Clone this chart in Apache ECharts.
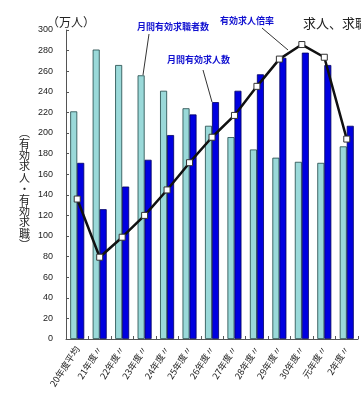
<!DOCTYPE html>
<html><head><meta charset="utf-8">
<script src="https://cdn.jsdelivr.net/npm/echarts@6/dist/echarts.min.js"></script>
<style>html,body{margin:0;padding:0;background:#fff}#c{width:361px;height:395px}</style>
</head><body><div id="c"></div>
<script>
const categories = ['20年度平均','21年度〃','22年度〃','23年度〃','24年度〃','25年度〃','26年度〃','27年度〃','28年度〃','29年度〃','30年度〃','元年度〃','2年度〃'];
const seekers = [221,281,266,256,241,224,207,196,184,176,172,171,187];
const openings = [171,126,148,174,198,218,230,241,257,273,278,266,207];
const ratio = [0.77,0.45,0.56,0.68,0.82,0.97,1.11,1.23,1.39,1.54,1.62,1.55,1.10];
const yTicks = [0,20,40,60,80,100,120,140,160,180,200,220,240,260,280,300];

const chart = echarts.init(document.getElementById('c'), null, {renderer:'canvas'});
const font = '"Noto Sans CJK JP", sans-serif';
const blue = '#1010d0';
chart.setOption({
  animation:false,
  textStyle:{fontFamily:font},
  grid:{left:66,right:3,top:30,bottom:56},
  xAxis:{type:'category',data:categories,
    axisLine:{lineStyle:{color:'#555',width:1}},
    axisTick:{show:true,inside:true,length:3,lineStyle:{color:'#555'}},
    axisLabel:{rotate:57,fontSize:9,color:'#222',margin:8,interval:0,fontFamily:font}},
  yAxis:[{type:'value',min:0,max:300,interval:20,
    axisLine:{show:true,lineStyle:{color:'#555'}},
    axisTick:{show:true,inside:true,length:3,lineStyle:{color:'#555'}},
    splitLine:{show:false},
    axisLabel:{fontSize:9,color:'#222',margin:13,fontFamily:'Liberation Sans, Arial, sans-serif',
      formatter:v=>yTicks.includes(v)?String(v):''}},
    {type:'value',min:0,max:1.7,show:false,splitLine:{show:false}}],
  series:[
    {name:'月間有効求職者数',type:'bar',data:seekers,barWidth:7,barGap:'0%',barCategoryGap:'40%',
      itemStyle:{color:'#9ad9d9',borderColor:'#1e4646',borderWidth:0.8}},
    {name:'月間有効求人数',type:'bar',data:openings,barWidth:7,barGap:'0%',
      itemStyle:{color:'#0000e0',borderColor:'#000060',borderWidth:0.8}},
    {name:'有効求人倍率',type:'line',yAxisIndex:1,data:ratio,symbol:'rect',symbolSize:6,
      lineStyle:{color:'#111',width:2.5},
      itemStyle:{color:'#fff',borderColor:'#333',borderWidth:1},z:5}
  ],
  graphic:[
    {type:'text',left:47,top:16,style:{text:'（万人）',font:'12px '+font,fill:'#222'}},
    {type:'text',left:137,top:22,style:{text:'月間有効求職者数',font:'bold 9px '+font,fill:blue}},
    {type:'line',shape:{x1:149,y1:34,x2:143,y2:75},style:{stroke:'#333',lineWidth:1}},
    {type:'text',left:167,top:55,style:{text:'月間有効求人数',font:'bold 9px '+font,fill:blue}},
    {type:'line',shape:{x1:203,y1:70,x2:212,y2:102},style:{stroke:'#333',lineWidth:1}},
    {type:'text',left:220,top:16,style:{text:'有効求人倍率',font:'bold 9px '+font,fill:blue}},
    {type:'line',shape:{x1:262,y1:28,x2:288,y2:50},style:{stroke:'#333',lineWidth:1}},
    {type:'text',left:303,top:17,style:{text:'求人、求職の推移',font:'13px '+font,fill:'#222'}},
    {type:'text',left:19,top:127,style:{text:'︵\n有\n効\n求\n人\n・\n有\n効\n求\n職\n︶',font:'11px '+font,fill:'#222',lineHeight:11.2,align:'left'}}
  ]
});
</script></body></html>
